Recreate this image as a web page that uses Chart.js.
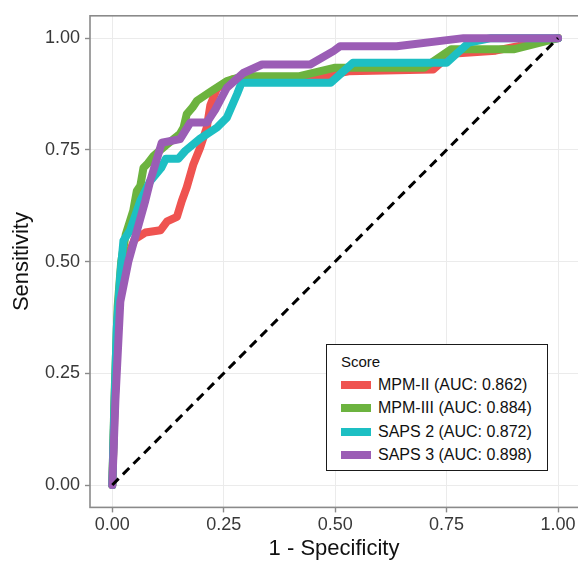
<!DOCTYPE html>
<html><head><meta charset="utf-8">
<script src="https://cdn.jsdelivr.net/npm/chart.js@4/dist/chart.umd.min.js"></script>
<style>
html,body{margin:0;padding:0;background:#fff;}
#wrap{position:relative;width:578px;height:563px;overflow:hidden;}
#legend{position:absolute;left:326px;top:344px;width:222px;height:127px;border:1.6px solid #1a1a1a;background:#fff;font-family:"Liberation Sans",Arial,sans-serif;box-sizing:border-box;color:#111;}
#legend .ttl{position:absolute;left:14px;top:8px;font-size:15px;}
#legend .row{position:absolute;left:14px;height:22px;display:flex;align-items:center;font-size:16px;white-space:nowrap;}
#legend .sw{width:30px;height:8px;margin-right:7px;}
</style>
</head><body>
<div id="wrap"><canvas id="c" width="578" height="563"></canvas><div id="legend"></div></div>
<script>
// ---- data ----
const seriesNames = ['MPM-II (AUC: 0.862)', 'MPM-III (AUC: 0.884)', 'SAPS 2 (AUC: 0.872)', 'SAPS 3 (AUC: 0.898)'];
const seriesColors = ['#ef5350', '#6cb33f', '#1dbfc3', '#9b5db5'];

const mpm2FPR = [0, 0.006, 0.015, 0.03, 0.05, 0.074, 0.108, 0.123, 0.145, 0.156, 0.167, 0.182, 0.197, 0.212, 0.22, 0.235, 0.27, 0.45, 0.53, 0.72, 0.76, 0.86, 1];
const mpm2TPR = [0, 0.2, 0.4, 0.5, 0.55, 0.565, 0.57, 0.59, 0.6, 0.636, 0.666, 0.718, 0.755, 0.8, 0.85, 0.888, 0.908, 0.91, 0.926, 0.93, 0.965, 0.972, 1];

const mpm3FPR = [0, 0.005, 0.012, 0.02, 0.03, 0.047, 0.055, 0.063, 0.07, 0.08, 0.093, 0.12, 0.152, 0.16, 0.167, 0.18, 0.19, 0.22, 0.257, 0.294, 0.42, 0.5, 0.7, 0.76, 0.9, 1];
const mpm3TPR = [0, 0.2, 0.4, 0.5, 0.56, 0.614, 0.658, 0.67, 0.71, 0.72, 0.737, 0.76, 0.786, 0.8, 0.83, 0.845, 0.86, 0.88, 0.904, 0.915, 0.915, 0.934, 0.934, 0.975, 0.975, 1];

const saps2FPR = [0, 0.004, 0.01, 0.018, 0.025, 0.04, 0.063, 0.085, 0.11, 0.12, 0.148, 0.164, 0.197, 0.235, 0.257, 0.28, 0.29, 0.49, 0.54, 0.75, 0.8, 0.85, 1];
const saps2TPR = [0, 0.15, 0.35, 0.47, 0.547, 0.57, 0.636, 0.68, 0.71, 0.73, 0.73, 0.748, 0.775, 0.8, 0.822, 0.875, 0.9, 0.9, 0.945, 0.945, 0.99, 1, 1];

const saps3FPR = [0, 0.007, 0.018, 0.036, 0.05, 0.074, 0.085, 0.111, 0.152, 0.175, 0.212, 0.231, 0.257, 0.294, 0.336, 0.444, 0.496, 0.511, 0.638, 0.788, 1];
const saps3TPR = [0, 0.19, 0.41, 0.5, 0.55, 0.636, 0.68, 0.766, 0.774, 0.811, 0.811, 0.84, 0.889, 0.922, 0.941, 0.941, 0.971, 0.982, 0.982, 1, 1];

const refFPR = [0, 1];
const refTPR = [0, 1];

const tickValues = [0, 0.25, 0.5, 0.75, 1];
const tickLabels = ['0.00', '0.25', '0.50', '0.75', '1.00'];
const xTitle = '1 - Specificity';
const yTitle = 'Sensitivity';
const legendTitle = 'Score';

// ---- build ----
const pts = (xs, ys) => xs.map((x, i) => ({x: x, y: ys[i]}));
const seriesX = [mpm2FPR, mpm3FPR, saps2FPR, saps3FPR];
const seriesY = [mpm2TPR, mpm3TPR, saps2TPR, saps3TPR];

const datasets = [{
  label: 'ref', data: pts(refFPR, refTPR), borderColor: '#000', borderWidth: 3,
  borderDash: [9, 6], showLine: true, pointRadius: 0, order: 0, isRef: true
}];
seriesNames.forEach((n, i) => {
  datasets.push({
    label: n, data: pts(seriesX[i], seriesY[i]), borderColor: seriesColors[i],
    backgroundColor: seriesColors[i], borderWidth: 8, showLine: true, pointRadius: 0,
    borderJoinStyle: 'round', borderCapStyle: 'round', tension: 0, order: 4 - i
  });
});

const FONT = '"Liberation Sans", Arial, Helvetica, sans-serif';
const panelBorder = {
  id: 'panelBorder',
  afterDatasetsDraw(chart) {
    const a = chart.chartArea, ctx = chart.ctx;
    ctx.save();
    ctx.strokeStyle = '#8a8a8a';
    ctx.lineWidth = 1.6;
    ctx.strokeRect(a.left, a.top, a.right - a.left + 10, a.bottom - a.top);
    ctx.restore();
  }
};

function setTicks(scale) { scale.ticks = tickValues.map(v => ({value: v})); }

const chart = new Chart(document.getElementById('c'), {
  type: 'scatter',
  data: {datasets: datasets},
  options: {
    responsive: false, animation: false, devicePixelRatio: 1,
    layout: {padding: {top: 14.6, right: 0, left: 0, bottom: 0}},
    plugins: {legend: {display: false}, tooltip: {enabled: false}},
    scales: {
      x: {
        type: 'linear', min: -0.05, max: 1.0448,
        afterBuildTicks: setTicks,
        afterFit: s => { s.height = 55.6; s.paddingLeft = 0; s.paddingRight = 0; },
        grid: {color: '#ebebeb', lineWidth: 1, tickColor: '#8a8a8a', tickLength: 5, tickWidth: 1.4},
        border: {display: false},
        ticks: {font: {family: FONT, size: 18}, color: '#383838', padding: 2, maxRotation: 0,
          callback: (v) => tickLabels[tickValues.indexOf(v)]},
        title: {display: true, text: xTitle, font: {family: FONT, size: 22}, color: '#111', padding: {top: 0, bottom: 1}}
      },
      y: {
        type: 'linear', min: -0.05, max: 1.05,
        afterBuildTicks: setTicks,
        afterFit: s => { s.width = 90; },
        grid: {color: '#ebebeb', lineWidth: 1, tickColor: '#8a8a8a', tickLength: 5, tickWidth: 1.4},
        border: {display: false},
        ticks: {font: {family: FONT, size: 18}, color: '#383838', padding: 5,
          callback: (v) => tickLabels[tickValues.indexOf(v)]},
        title: {display: true, text: yTitle, font: {family: FONT, size: 22}, color: '#111', padding: {top: 9, bottom: 0}}
      }
    }
  },
  plugins: [panelBorder]
});

// ---- legend from datasets ----
const lg = document.getElementById('legend');
const t = document.createElement('div'); t.className = 'ttl'; t.textContent = legendTitle; lg.appendChild(t);
chart.data.datasets.filter(d => !d.isRef).forEach((d, i) => {
  const r = document.createElement('div'); r.className = 'row';
  r.style.top = (29 + i * 23.3) + 'px';
  const sw = document.createElement('span'); sw.className = 'sw'; sw.style.background = d.borderColor;
  const tx = document.createElement('span'); tx.textContent = d.label;
  r.appendChild(sw); r.appendChild(tx); lg.appendChild(r);
});
</script>
</body></html>
